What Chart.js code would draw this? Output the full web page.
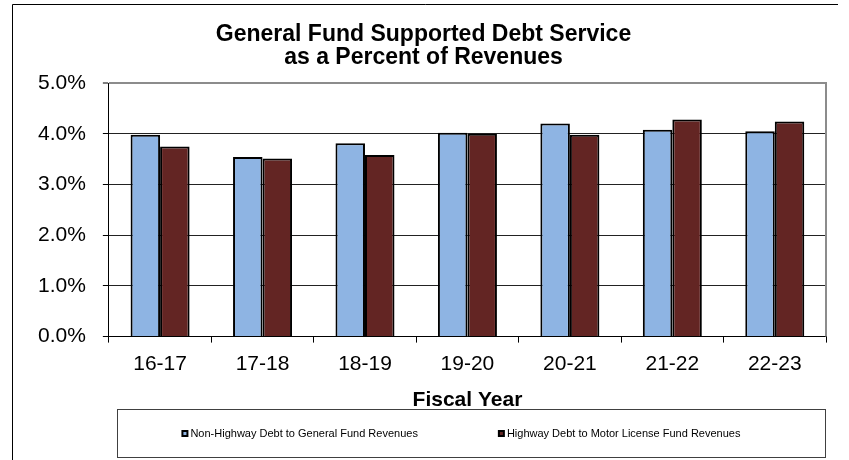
<!DOCTYPE html>
<html>
<head>
<meta charset="utf-8">
<script src="https://cdn.jsdelivr.net/npm/chart.js@4.4.1/dist/chart.umd.min.js"></script>
<style>
  body { margin: 0; background: #fff; }
  #wrap { width: 849px; height: 460px; position: relative; }
</style>
</head>
<body>
<div id="wrap"><canvas id="debtChart"></canvas></div>
<script>
const fiscalYears = ["16-17", "17-18", "18-19", "19-20", "20-21", "21-22", "22-23"];
const nonHighwayPct = [3.98, 3.54, 3.81, 4.02, 4.20, 4.08, 4.05];
const highwayPct = [3.75, 3.51, 3.58, 4.00, 3.98, 4.28, 4.24];
const yTicks = [0, 1, 2, 3, 4, 5];
const seriesNames = ["Non-Highway Debt to General Fund Revenues", "Highway Debt to Motor License Fund Revenues"];

const FONT = "'Liberation Sans', Arial, sans-serif";
Chart.defaults.color = "#000";
Chart.defaults.font.family = FONT;

// outer frame + grey plot border on top/right
const framePlugin = {
    id: "frame",
    beforeDraw(chart) {
        const ctx = chart.ctx;
        ctx.save();
        ctx.strokeStyle = "#000";
        ctx.lineWidth = 1;
        ctx.beginPath();
        ctx.moveTo(12.5, chart.height);
        ctx.lineTo(12.5, 4.5);
        ctx.lineTo(838, 4.5);
        ctx.stroke();
        ctx.restore();
    },
    beforeDatasetsDraw(chart) {
        const a = chart.chartArea;
        const ctx = chart.ctx;
        ctx.save();
        ctx.strokeStyle = "#8c8c8c";
        ctx.lineWidth = 2;
        ctx.beginPath();
        ctx.moveTo(a.left, a.top);
        ctx.lineTo(a.right, a.top);
        ctx.lineTo(a.right, a.bottom);
        ctx.stroke();
        ctx.restore();
    }
};

// boxed legend under the axis title
const boxLegendPlugin = {
    id: "boxLegend",
    afterDraw(chart) {
        const ctx = chart.ctx;
        const a = chart.chartArea;
        const box = { x: a.left + 8, y: 409.5, w: a.right - a.left - 9, h: 48 };
        ctx.save();
        ctx.strokeStyle = "#404040";
        ctx.lineWidth = 1;
        ctx.strokeRect(Math.round(box.x) + 0.5, box.y, Math.round(box.w), box.h);

        ctx.font = "11px " + FONT;
        ctx.textBaseline = "middle";
        ctx.fillStyle = "#000";
        const gap = 80;
        const sets = chart.data.datasets;
        const widths = sets.map(ds => 9 + ctx.measureText(ds.label).width);
        const total = widths.reduce((s, w) => s + w, 0) + gap * (sets.length - 1);
        let x = box.x + box.w / 2 - total / 2 - 10;
        const cy = box.y + box.h / 2;
        sets.forEach((ds, i) => {
            ctx.fillStyle = "#000";
            ctx.fillRect(x, cy - 3.5, 7, 7);
            ctx.fillStyle = ds.backgroundColor;
            ctx.fillRect(x + 2, cy - 1.5, 3, 3);
            ctx.fillStyle = "#000";
            ctx.fillText(ds.label, x + 9, cy + 0.5);
            x += widths[i] + gap;
        });
        ctx.restore();
    }
};

new Chart(document.getElementById("debtChart"), {
    type: "bar",
    data: {
        labels: fiscalYears,
        datasets: [
            {
                label: seriesNames[0],
                data: nonHighwayPct,
                backgroundColor: "#8EB4E3",
                borderColor: "#000",
                borderWidth: 2
            },
            {
                label: seriesNames[1],
                data: highwayPct,
                backgroundColor: "#632523",
                borderColor: "#000",
                borderWidth: 2
            }
        ]
    },
    options: {
        responsive: true,
        maintainAspectRatio: false,
        animation: false,
        categoryPercentage: 0.576,
        barPercentage: 1.0,
        layout: { padding: { left: 21, right: 23, top: 0, bottom: 47 } },
        plugins: {
            legend: { display: false },
            tooltip: { enabled: false },
            title: {
                display: true,
                text: ["General Fund Supported Debt Service", "as a Percent of Revenues"],
                font: { size: 23, weight: "bold", family: FONT, lineHeight: 1.0 },
                color: "#000",
                padding: { top: 23, bottom: 14 }
            }
        },
        scales: {
            x: {
                grid: {
                    display: true,
                    drawOnChartArea: false,
                    tickLength: 6,
                    color: "#000"
                },
                border: { color: "#000", width: 1 },
                ticks: { font: { size: 21 }, padding: 9, color: "#000" },
                title: {
                    display: true,
                    text: "Fiscal Year",
                    font: { size: 21, weight: "bold", family: FONT },
                    color: "#000",
                    padding: { top: 2, bottom: 0 }
                }
            },
            y: {
                min: 0,
                max: 5,
                afterBuildTicks(scale) {
                    scale.ticks = yTicks.map(v => ({ value: v }));
                },
                grid: {
                    color: c => (c.tick && c.tick.value === 5 ? "#8c8c8c" : "#222"),
                    lineWidth: c => (c.tick && c.tick.value === 5 ? 2 : 1),
                    tickColor: "#000",
                    tickWidth: 1,
                    tickLength: 6
                },
                border: { color: "#000", width: 1 },
                ticks: {
                    font: { size: 21 },
                    padding: 17,
                    color: "#000",
                    callback: v => v.toFixed(1) + "%"
                }
            }
        }
    },
    plugins: [framePlugin, boxLegendPlugin]
});
</script>
</body>
</html>
